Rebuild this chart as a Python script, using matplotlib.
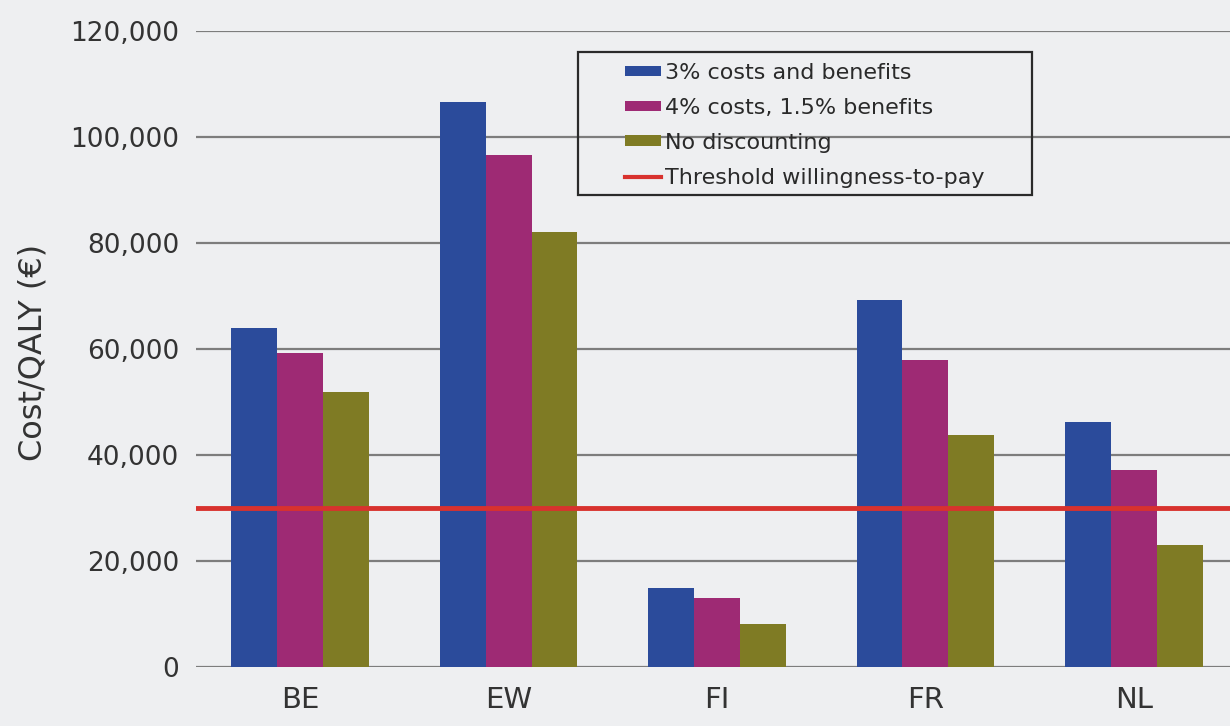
import numpy as np
import matplotlib
matplotlib.use('Agg')
import matplotlib.pyplot as plt
from matplotlib.patches import Patch, Rectangle
from matplotlib.lines import Line2D
from matplotlib.ticker import FuncFormatter

# data
countries = ['BE', 'EW', 'FI', 'FR', 'NL']
disc_3pct = [63900, 106600, 15000, 69200, 46200]
disc_4_15 = [59200, 96600, 13100, 57900, 37200]
no_disc = [51900, 82100, 8200, 43800, 23100]
threshold = 30000
series_names = ['3% costs and benefits', '4% costs, 1.5% benefits', 'No discounting']
threshold_name = 'Threshold willingness-to-pay'
yticks = [0, 20000, 40000, 60000, 80000, 100000, 120000]

colors = ['#2b4b9b', '#9e2a74', '#7f7b24']
red = '#d8322e'
bg = '#eeeff1'

W, H = 1230, 726
fig = plt.figure(figsize=(W / 100, H / 100), dpi=100, facecolor=bg)
ax = fig.add_axes([196 / W, 1 - 667 / H, (1238 - 196) / W, (667 - 31) / H])
ax.set_facecolor(bg)

x = np.arange(len(countries))
bw = 0.22
for i, (vals, c) in enumerate(zip([disc_3pct, disc_4_15, no_disc], colors)):
    ax.bar(x + (i - 1) * bw, vals, width=bw, color=c, zorder=3)

ax.axhline(threshold, color=red, lw=3.5, zorder=4)

ax.set_xlim(-0.5, len(countries) - 0.5)
ax.set_ylim(0, 120000)
ax.set_yticks(yticks)
ax.yaxis.set_major_formatter(FuncFormatter(lambda v, p: f'{int(v):,}'))
ax.set_xticks(x)
ax.set_xticklabels(countries)
ax.grid(axis='y', color='#7d7d7d', lw=1.6, zorder=1)
for s in ax.spines.values():
    s.set_visible(False)
ax.tick_params(axis='y', length=0, pad=12, labelsize=19, labelcolor='#333333')
ax.tick_params(axis='x', length=0, pad=14, labelsize=21, labelcolor='#333333')

fig.text(33 / W, 1 - 352 / H, 'Cost/QALY (€)', rotation=90, ha='center', va='center',
         fontsize=23, color='#333333')

handles = [Patch(facecolor=c, edgecolor='none') for c in colors]
handles.append(Line2D([0], [0], color=red, lw=3))
leg = fig.legend(handles, series_names + [threshold_name], loc='upper left',
                 bbox_to_anchor=(625 / W, 1 - 63 / H), frameon=False, fontsize=16,
                 handlelength=1.6, handleheight=0.36, handletextpad=0.2,
                 labelspacing=0.67, borderpad=0, borderaxespad=0)
for t in leg.get_texts():
    t.set_color('#2a2a2a')

fig.patches.append(Rectangle((578 / W, 1 - 195 / H), 454 / W, 143 / H,
                             transform=fig.transFigure, fill=False,
                             edgecolor='#2a2a2a', lw=1.6))

fig.savefig('out.png', dpi=100, facecolor=bg)
